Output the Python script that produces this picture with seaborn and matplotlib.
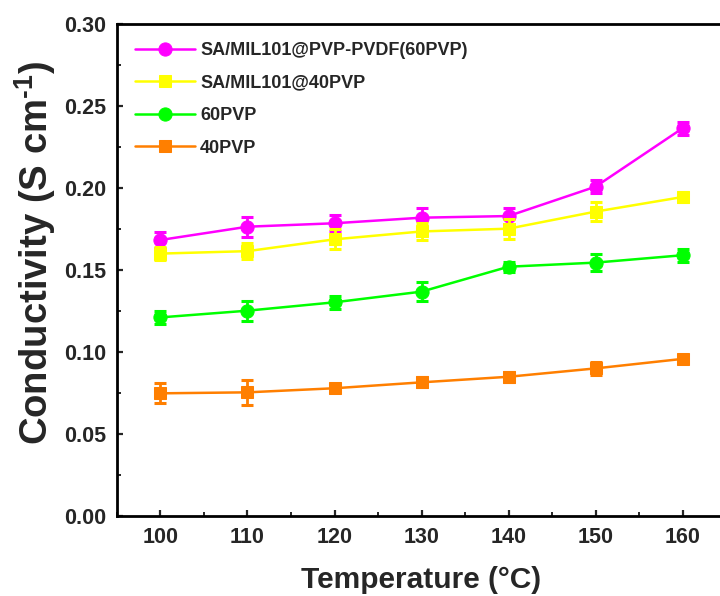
import matplotlib
matplotlib.use('Agg')
import matplotlib.pyplot as plt
from matplotlib.ticker import MultipleLocator
import pandas as pd
import seaborn as sns

# Data
temperature = [100, 110, 120, 130, 140, 150, 160]

sa_mil_60 = [0.1683, 0.1764, 0.1785, 0.1819, 0.1829, 0.2008, 0.2364]
sa_mil_60_err = [0.005, 0.006, 0.005, 0.006, 0.005, 0.004, 0.004]

sa_mil_40 = [0.1600, 0.1615, 0.1687, 0.1735, 0.1752, 0.1856, 0.1945]
sa_mil_40_err = [0.004, 0.005, 0.006, 0.005, 0.006, 0.006, 0.003]

pvp_60 = [0.1211, 0.1252, 0.1303, 0.1368, 0.1520, 0.1545, 0.1590]
pvp_60_err = [0.004, 0.006, 0.004, 0.006, 0.003, 0.005, 0.004]

pvp_40 = [0.0748, 0.0754, 0.0779, 0.0815, 0.0849, 0.0900, 0.0958]
pvp_40_err = [0.006, 0.0075, 0.002, 0.003, 0.003, 0.004, 0.002]

labels = ['SA/MIL101@PVP-PVDF(60PVP)', 'SA/MIL101@40PVP', '60PVP', '40PVP']
colors = ['#FF00FF', '#FFFF00', '#00FF00', '#FF7F00']
markers = ['o', 's', 'o', 's']

sns.set_style('ticks')
plt.rcParams['font.family'] = ['Liberation Sans', 'DejaVu Sans']
plt.rcParams['font.weight'] = 'bold'
plt.rcParams['axes.labelweight'] = 'bold'
plt.rcParams['mathtext.fontset'] = 'custom'
plt.rcParams['mathtext.bf'] = 'Liberation Sans:bold'
plt.rcParams['mathtext.rm'] = 'Liberation Sans:bold'
plt.rcParams['mathtext.default'] = 'bf'

fig = plt.figure(figsize=(7.2, 5.96), dpi=100)
ax = fig.add_axes([117 / 720, 1 - 516 / 596, 609 / 720, 492 / 596])

series = [
    (sa_mil_60, sa_mil_60_err),
    (sa_mil_40, sa_mil_40_err),
    (pvp_60, pvp_60_err),
    (pvp_40, pvp_40_err),
]

for i, (vals, errs) in enumerate(series):
    df = pd.DataFrame({'T': temperature, 'sigma': vals})
    ax.errorbar(temperature, vals, yerr=errs, fmt='none', ecolor=colors[i],
                elinewidth=2, capsize=4.5, capthick=2.2, zorder=3 + i * 0.1)
    sns.lineplot(data=df, x='T', y='sigma', ax=ax, color=colors[i],
                 marker=markers[i], markersize=9.5 if markers[i] == 'o' else 9,
                 markeredgecolor=colors[i], linewidth=1.8, label=labels[i],
                 zorder=3 + i * 0.1)

ax.set_xlim(95, 165)
ax.set_ylim(0, 0.30)
ax.xaxis.set_major_locator(MultipleLocator(10))
ax.xaxis.set_minor_locator(MultipleLocator(5))
ax.yaxis.set_major_locator(MultipleLocator(0.05))
ax.yaxis.set_minor_locator(MultipleLocator(0.025))
ax.yaxis.set_major_formatter(plt.FuncFormatter(lambda v, _: f'{v:.2f}'))

ax.tick_params(axis='both', which='major', direction='in', length=4.5, width=1.6,
               labelsize=15.5, pad=8, top=False, right=False)
ax.tick_params(axis='both', which='minor', direction='in', length=3, width=1.4,
               top=False, right=False)
for lab in ax.get_xticklabels() + ax.get_yticklabels():
    lab.set_fontweight('bold')

for side in ['left', 'bottom', 'top', 'right']:
    ax.spines[side].set_linewidth(2)
    ax.spines[side].set_color('black')

ax.set_xlabel('Temperature (°C)', fontsize=21.5, fontweight='bold', labelpad=13)
ax.set_ylabel('Conductivity (S cm$^{\u20111}$)', fontsize=27.5, fontweight='bold')
ax.yaxis.set_label_coords(-0.097, 0.535)

leg = ax.legend(loc='upper left', bbox_to_anchor=(0.0296, 0.963), frameon=False,
                fontsize=13, handlelength=3.3, handletextpad=0.3, labelspacing=0.86,
                borderpad=0, borderaxespad=0)
for t in leg.get_texts():
    t.set_fontweight('bold')

fig.savefig('out.png', dpi=100)
